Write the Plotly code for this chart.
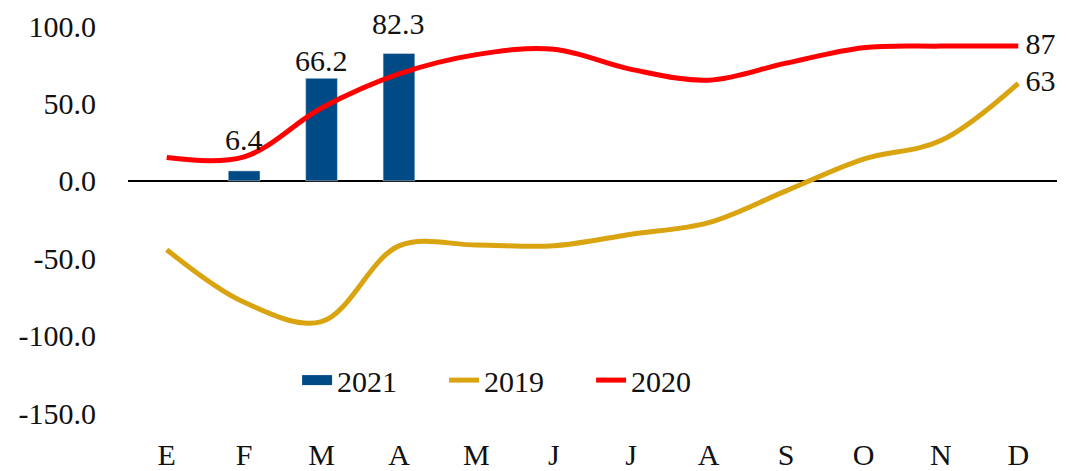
import plotly.graph_objects as go

months = ["E", "F", "M", "A", "M", "J", "J", "A", "S", "O", "N", "D"]
v2021 = [None, 6.4, 66.2, 82.3, None, None, None, None, None, None, None, None]
v2019 = [-44.5, -78.5, -91, -42, -41.5, -42, -34.5, -27, -6.5, 14, 26, 63]
v2020 = [15, 15.5, 47, 69, 81.5, 85, 72, 65, 76, 86, 87, 87]
yticks = [-150, -100, -50, 0, 50, 100]

# label offsets above bars (pixels), style only
bar_label_shift = [0, 13, -1, 11, 0, 0, 0, 0, 0, 0, 0, 0]

x = list(range(len(months)))
FONT = "Liberation Serif"
FS = 30
TXT = "#111111"
BLUE = "#004A86"
GOLD = "#D9A40F"
RED = "#FF0000"

def end_label(vals):
    return [""] * (len(vals) - 1) + [f"{vals[-1]:.0f}"]

end_marker = [0] * (len(months) - 1) + [10]

fig = go.Figure()
fig.add_trace(go.Bar(
    x=x, y=v2021, name="2021", marker_color=BLUE, width=0.41, showlegend=False,
))
fig.add_trace(go.Scatter(
    x=x, y=v2019, name="2019", mode="lines+markers+text",
    line=dict(color=GOLD, width=5, shape="spline", smoothing=1.0),
    marker=dict(size=end_marker, color="rgba(0,0,0,0)", line=dict(width=0)),
    text=end_label(v2019), textposition="middle right", cliponaxis=False,
    textfont=dict(family=FONT, size=FS, color=TXT), showlegend=False,
))
fig.add_trace(go.Scatter(
    x=x, y=v2020, name="2020", mode="lines+markers+text",
    line=dict(color=RED, width=5, shape="spline", smoothing=1.0),
    marker=dict(size=end_marker, color="rgba(0,0,0,0)", line=dict(width=0)),
    text=end_label(v2020), textposition="middle right", cliponaxis=False,
    textfont=dict(family=FONT, size=FS, color=TXT), showlegend=False,
))

# legend-only entries (swatches styled like the reference)
fig.add_trace(go.Scatter(x=[None], y=[None], name="2021", mode="lines",
                         line=dict(color=BLUE, width=17)))
fig.add_trace(go.Scatter(x=[None], y=[None], name="2019", mode="lines",
                         line=dict(color=GOLD, width=5)))
fig.add_trace(go.Scatter(x=[None], y=[None], name="2020", mode="lines",
                         line=dict(color=RED, width=5)))

for i, v in enumerate(v2021):
    if v is None:
        continue
    fig.add_annotation(x=x[i], y=v, text=f"{v:.1f}", showarrow=False,
                       yanchor="bottom", yshift=bar_label_shift[i],
                       font=dict(family=FONT, size=FS, color=TXT))

fig.update_layout(
    width=1066, height=471,
    margin=dict(l=128, r=9, t=26, b=58, autoexpand=False),
    paper_bgcolor="white", plot_bgcolor="white",
    font=dict(family=FONT, size=FS, color=TXT),
    showlegend=True,
    legend=dict(orientation="h", x=0.182, xanchor="left", y=0.085, yanchor="middle",
                font=dict(family=FONT, size=FS), bgcolor="rgba(0,0,0,0)",
                entrywidth=102, entrywidthmode="pixels", tracegroupgap=0),
    hovermode=False,
)
fig.update_xaxes(
    range=[-0.5, 11.5], tickvals=x, ticktext=months, showgrid=False,
    zeroline=False, showline=False, ticks="", ticklabelstandoff=21, automargin=False,
)
fig.update_yaxes(
    range=[-150, 100], tickvals=yticks, ticktext=[f"{v:.1f}" for v in yticks],
    showgrid=False, zeroline=True, zerolinecolor="black", zerolinewidth=2,
    showline=False, ticks="", ticklabelstandoff=31, automargin=False,
)

fig.write_html("out.html", config={"displayModeBar": False},
               post_script="document.body.style.margin='0';document.body.style.padding='0';")
